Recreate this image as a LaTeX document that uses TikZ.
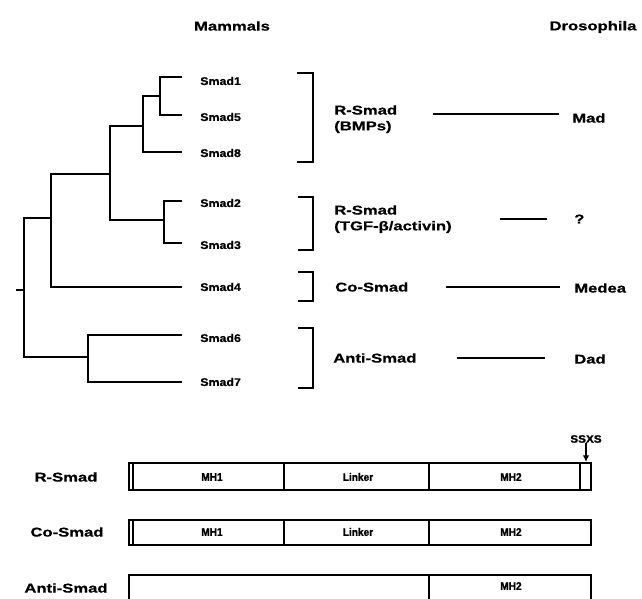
\documentclass[tikz,border=0pt]{standalone}
\usepackage{fontspec}
\setmainfont{Liberation Sans}
\newfontfamily\widefont{Liberation Sans}[FakeStretch=1.3, FakeBold=0.6]
\newfontfamily\leaffont{Liberation Sans}[FakeStretch=1.12, FakeBold=0.6]
\newfontfamily\domfont{Liberation Sans}[FakeStretch=0.92, FakeBold=1.5]
\newfontfamily\tagfont{Liberation Sans}[FakeStretch=1.1, FakeBold=1.5]
\usetikzlibrary{arrows.meta}
\begin{document}
\begin{tikzpicture}[x=0.75pt,y=-0.75pt,
  lab/.style={font=\widefont\bfseries\fontsize{9.6pt}{11pt}\selectfont, inner sep=0pt},
  leaf/.style={font=\leaffont\bfseries\fontsize{8.3pt}{10pt}\selectfont, inner sep=0pt, anchor=west},
  dom/.style={font=\domfont\bfseries\fontsize{8.2pt}{9pt}\selectfont, inner sep=0pt},
  tag/.style={font=\tagfont\bfseries\fontsize{8pt}{9pt}\selectfont, inner sep=0pt},
  tree/.style={line width=1.3pt, line cap=rect},
  brk/.style={line width=1.5pt},
  conn/.style={line width=1.4pt},
  bar/.style={line width=0.8pt}]
\useasboundingbox (0,0) rectangle (642,599);

% headers
\node[lab] (mam) at (232,26) {Mammals};
\node[lab] (dro) at (593,27) {Drosophila};

% leaf label nodes
\node[leaf] (s1) at (200,81) {Smad1};
\node[leaf] (s5) at (200,117) {Smad5};
\node[leaf] (s8) at (200,153) {Smad8};
\node[leaf] (s2) at (200,203) {Smad2};
\node[leaf] (s3) at (200,245) {Smad3};
\node[leaf] (s4) at (200,287) {Smad4};
\node[leaf] (s6) at (200,338) {Smad6};
\node[leaf] (s7) at (200,382) {Smad7};

% tree coordinates
\coordinate (e1) at (181,77);
\coordinate (e5) at (181,115);
\coordinate (e8) at (181,152);
\coordinate (e2) at (181,201);
\coordinate (e3) at (181,243);
\coordinate (e4) at (181,287);
\coordinate (e6) at (181,335);
\coordinate (e7) at (181,382);

\draw[tree] (e1) -- (160,77) -- (160,115) -- (e5);
\draw[tree] (160,96) -- (143,96) -- (143,152) -- (e8);
\draw[tree] (e2) -- (164,201) -- (164,243) -- (e3);
\draw[tree] (143,126) -- (110,126) -- (110,220) -- (164,220);
\draw[tree] (110,174) -- (51,174) -- (51,287) -- (e4);
\draw[tree] (e6) -- (88,335) -- (88,382) -- (e7);
\draw[tree] (51,218) -- (24,218) -- (24,357) -- (88,357);
\draw[tree] (17,290) -- (24,290);

% brackets
\draw[brk] (297,73) -- (313,73) -- (313,162) -- (297,162);
\draw[brk] (298,197) -- (313,197) -- (313,250) -- (298,250);
\draw[brk] (298,272) -- (313,272) -- (313,301) -- (298,301);
\draw[brk] (298,328) -- (313,328) -- (313,388) -- (298,388);

% class labels
\node[lab, anchor=west] (rb1) at (334,110) {R-Smad};
\node[lab, anchor=west] (rb2) at (334,127) {(BMPs)};
\node[lab, anchor=west] (rt1) at (334,210) {R-Smad};
\node[lab, anchor=west] (rt2) at (334,227) {(TGF-β/activin)};
\node[lab, anchor=west] (co) at (335,287) {Co-Smad};
\node[lab, anchor=west] (anti) at (333,358) {Anti-Smad};

% Drosophila
\node[lab, anchor=west] (mad) at (572,118) {Mad};
\node[lab, anchor=west] (q) at (574,219) {?};
\node[lab, anchor=west] (med) at (574,288) {Medea};
\node[lab, anchor=west] (dad) at (574,359) {Dad};

\coordinate (m1) at (433,114); \coordinate (m2) at (559,114);
\coordinate (q1) at (500,219); \coordinate (q2) at (547,219);
\coordinate (d1) at (446,287); \coordinate (d2) at (560,287);
\coordinate (a1) at (457,358); \coordinate (a2) at (545,358);
\draw[conn] (m1) -- (m2);
\draw[conn] (q1) -- (q2);
\draw[conn] (d1) -- (d2);
\draw[conn] (a1) -- (a2);

% domain bars
\node[lab] (lr) at (66,477) {R-Smad};
\node[lab] (lc) at (67,532) {Co-Smad};
\node[lab] (la) at (66,588) {Anti-Smad};

\draw[bar] (129,463) rectangle (591,490);
\draw[bar] (133,463) -- (133,490);
\draw[bar] (284,463) -- (284,490);
\draw[bar] (429,463) -- (429,490);
\draw[bar] (580,463) -- (580,490);
\node[dom] (r1) at (212,477) {MH1};
\node[dom] (r2) at (358,477) {Linker};
\node[dom] (r3) at (511,477) {MH2};

\node[tag] (ssxs) at (586,439) {SSXS};
\coordinate (tip) at (586,462);
\draw[line width=1.4pt, -{Latex[length=5pt,width=5pt]}] (ssxs) -- (tip);

\draw[bar] (129,520) rectangle (591,545);
\draw[bar] (133,520) -- (133,545);
\draw[bar] (284,520) -- (284,545);
\draw[bar] (429,520) -- (429,545);
\node[dom] (c1) at (212,532) {MH1};
\node[dom] (c2) at (358,532) {Linker};
\node[dom] (c3) at (511,532) {MH2};

\draw[bar] (129,599) -- (129,575) -- (591,575) -- (591,599);
\draw[bar] (429,575) -- (429,599);
\node[dom] (x3) at (511,586) {MH2};
\end{tikzpicture}
\end{document}
